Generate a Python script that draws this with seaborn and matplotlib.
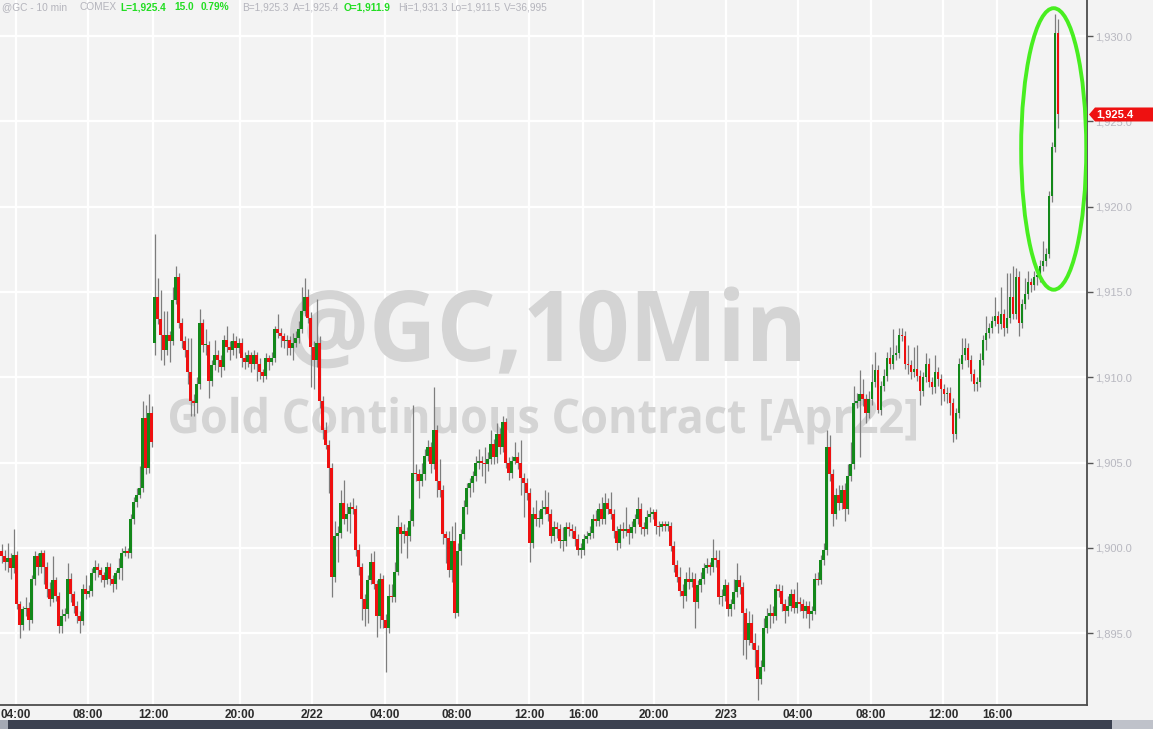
import numpy as np
import pandas as pd
import matplotlib
matplotlib.use("Agg")
import matplotlib.pyplot as plt
from matplotlib.patches import Ellipse, Rectangle, Polygon, PathPatch
from matplotlib.textpath import TextPath
from matplotlib.font_manager import FontProperties
from matplotlib.transforms import Affine2D
import seaborn as sns

# 10-minute candles, @GC (Gold Apr22), 2/21 03:10 -> 2/23 ~19:20
opens = [
    1899.8, 1899.5, 1899.2, 1899.4, 1898.8, 1899.6, 1896.7, 1895.5, 1896.4, 1896.5,
    1895.8, 1898.2, 1899.5, 1898.9, 1899.7, 1898.9, 1897.6, 1897.0, 1898.1, 1897.2,
    1895.4, 1896.0, 1896.1, 1898.2, 1897.3, 1896.6, 1896.0, 1895.7, 1897.6, 1897.3,
    1897.5, 1898.5, 1898.9, 1898.7, 1898.4, 1898.1, 1898.9, 1898.2, 1897.9, 1898.5,
    1898.8, 1899.7, 1899.8, 1899.7, 1901.7, 1902.7, 1903.1, 1903.5, 1907.6, 1904.7,
    1907.9, 1912.0, 1914.7, 1913.4, 1912.5, 1911.6, 1912.5, 1912.1, 1914.5, 1915.9,
    1913.2, 1912.1, 1911.6, 1910.3, 1908.6, 1908.5, 1909.6, 1913.2, 1911.9, 1911.9,
    1909.8, 1910.7, 1911.3, 1911.0, 1910.6, 1912.2, 1911.8, 1911.6, 1912.1, 1911.7,
    1912.0, 1911.1, 1910.9, 1911.3, 1910.8, 1911.3, 1910.8, 1910.3, 1910.1, 1911.1,
    1910.9, 1911.1, 1912.8, 1912.6, 1912.4, 1912.1, 1912.2, 1911.7, 1912.0, 1912.3,
    1912.8, 1913.9, 1914.7, 1913.5, 1911.8, 1911.0, 1912.0, 1908.6, 1906.9, 1906.0,
    1904.7, 1898.3, 1900.7, 1900.9, 1902.6, 1901.7, 1902.0, 1902.4, 1902.3, 1899.9,
    1898.9, 1897.0, 1896.4, 1898.1, 1899.2, 1897.9, 1896.0, 1898.2, 1895.8, 1895.3,
    1897.2, 1897.1, 1898.6, 1901.2, 1900.8, 1901.0, 1900.7, 1901.6, 1904.4, 1904.3,
    1903.9, 1904.3, 1905.4, 1905.9, 1904.9, 1906.9, 1903.9, 1903.4, 1900.8, 1900.6,
    1898.7, 1900.4, 1896.2, 1899.8, 1900.8, 1902.4, 1903.5, 1903.8, 1904.2, 1905.0,
    1905.1, 1905.0, 1904.9, 1905.2, 1906.1, 1905.3, 1906.7, 1905.9, 1907.4, 1905.0,
    1904.4, 1905.1, 1905.3, 1905.0, 1904.1, 1903.8, 1903.2, 1900.3, 1902.0, 1901.7,
    1901.7, 1902.3, 1902.4, 1902.0, 1900.7, 1901.2, 1901.1, 1900.4, 1900.4, 1901.2,
    1901.1, 1901.0, 1900.5, 1899.9, 1899.9, 1900.5, 1900.7, 1900.9, 1901.7, 1901.6,
    1902.3, 1901.7, 1902.6, 1902.3, 1902.0, 1901.0, 1900.3, 1901.1, 1901.0, 1901.1,
    1900.9, 1901.2, 1901.7, 1902.3, 1901.2, 1901.1, 1901.8, 1902.0, 1902.1, 1901.3,
    1901.2, 1901.4, 1901.3, 1901.3, 1900.1, 1899.0, 1898.3, 1897.5, 1897.2, 1898.2,
    1898.0, 1898.2, 1896.8, 1897.8, 1898.2, 1898.8, 1899.0, 1898.9, 1899.4, 1899.3,
    1897.1, 1897.2, 1897.8, 1896.4, 1896.7, 1897.4, 1898.1, 1897.7, 1896.2, 1894.6,
    1895.6, 1894.4, 1894.0, 1892.3, 1893.0, 1895.3, 1896.0, 1896.2, 1896.0, 1897.6,
    1897.5, 1896.7, 1896.3, 1896.6, 1897.3, 1896.5, 1896.8, 1896.7, 1896.3, 1896.6,
    1896.1, 1896.3, 1898.2, 1898.1, 1899.3, 1899.9, 1905.9, 1904.3, 1902.0, 1903.1,
    1902.6, 1903.4, 1902.3, 1904.2, 1904.9, 1908.5, 1908.6, 1909.0, 1908.7, 1907.9,
    1908.7, 1909.7, 1910.4, 1908.1, 1909.5, 1910.1, 1911.1, 1910.8, 1911.3, 1911.4,
    1912.5, 1912.4, 1910.8, 1910.7, 1910.3, 1910.5, 1910.1, 1909.2, 1910.0, 1910.8,
    1909.7, 1909.4, 1910.3, 1909.9, 1909.3, 1909.0, 1909.1, 1908.5, 1906.7, 1907.9,
    1910.8, 1911.3, 1911.7, 1911.0, 1910.2, 1909.6, 1909.7, 1911.0, 1912.2, 1912.6,
    1912.9, 1913.3, 1913.6, 1913.1, 1913.7, 1912.9, 1913.5, 1914.7, 1913.7, 1915.9,
    1913.2, 1914.3, 1914.9, 1915.6, 1915.4, 1915.9, 1915.9, 1916.5, 1916.8, 1917.2,
    1920.6, 1923.5, 1930.2,
]
closes = [
    1899.5, 1899.2, 1899.4, 1898.8, 1899.6, 1896.7, 1895.5, 1896.4, 1896.5, 1895.8,
    1898.2, 1899.5, 1898.9, 1899.7, 1898.9, 1897.6, 1897.0, 1898.1, 1897.2, 1895.4,
    1896.0, 1896.1, 1898.2, 1897.3, 1896.6, 1896.0, 1895.7, 1897.6, 1897.3, 1897.5,
    1898.5, 1898.9, 1898.7, 1898.4, 1898.1, 1898.9, 1898.2, 1897.9, 1898.5, 1898.8,
    1899.7, 1899.8, 1899.7, 1901.7, 1902.7, 1903.1, 1903.5, 1907.6, 1904.7, 1907.9,
    1906.2, 1914.7, 1913.4, 1912.5, 1911.6, 1912.5, 1912.1, 1914.5, 1915.9, 1913.2,
    1912.1, 1911.6, 1910.3, 1908.6, 1908.5, 1909.6, 1913.2, 1911.9, 1911.9, 1909.8,
    1910.7, 1911.3, 1911.0, 1910.6, 1912.2, 1911.8, 1911.6, 1912.1, 1911.7, 1912.0,
    1911.1, 1910.9, 1911.3, 1910.8, 1911.3, 1910.8, 1910.3, 1910.1, 1911.1, 1910.9,
    1911.1, 1912.8, 1912.6, 1912.4, 1912.1, 1912.2, 1911.7, 1912.0, 1912.3, 1912.8,
    1913.9, 1914.7, 1913.5, 1911.8, 1911.0, 1912.0, 1908.6, 1906.9, 1906.0, 1904.7,
    1898.3, 1900.7, 1900.9, 1902.6, 1901.7, 1902.0, 1902.4, 1902.3, 1899.9, 1898.9,
    1897.0, 1896.4, 1898.1, 1899.2, 1897.9, 1896.0, 1898.2, 1895.8, 1895.3, 1897.2,
    1897.1, 1898.6, 1901.2, 1900.8, 1901.0, 1900.7, 1901.6, 1904.4, 1904.3, 1903.9,
    1904.3, 1905.4, 1905.9, 1904.9, 1906.9, 1903.9, 1903.4, 1900.8, 1900.6, 1898.7,
    1900.4, 1896.2, 1899.8, 1900.8, 1902.4, 1903.5, 1903.8, 1904.2, 1905.0, 1905.1,
    1905.0, 1904.9, 1905.2, 1906.1, 1905.3, 1906.7, 1905.9, 1907.4, 1905.0, 1904.4,
    1905.1, 1905.3, 1905.0, 1904.1, 1903.8, 1903.2, 1900.3, 1902.0, 1901.7, 1901.7,
    1902.3, 1902.4, 1902.0, 1900.7, 1901.2, 1901.1, 1900.4, 1900.4, 1901.2, 1901.1,
    1901.0, 1900.5, 1899.9, 1899.9, 1900.5, 1900.7, 1900.9, 1901.7, 1901.6, 1902.3,
    1901.7, 1902.6, 1902.3, 1902.0, 1901.0, 1900.3, 1901.1, 1901.0, 1901.1, 1900.9,
    1901.2, 1901.7, 1902.3, 1901.2, 1901.1, 1901.8, 1902.0, 1902.1, 1901.3, 1901.2,
    1901.4, 1901.3, 1901.3, 1900.1, 1899.0, 1898.3, 1897.5, 1897.2, 1898.2, 1898.0,
    1898.2, 1896.8, 1897.8, 1898.2, 1898.8, 1899.0, 1898.9, 1899.4, 1899.3, 1897.1,
    1897.2, 1897.8, 1896.4, 1896.7, 1897.4, 1898.1, 1897.7, 1896.2, 1894.6, 1895.6,
    1894.4, 1894.0, 1892.3, 1893.0, 1895.3, 1896.0, 1896.2, 1896.0, 1897.6, 1897.5,
    1896.7, 1896.3, 1896.6, 1897.3, 1896.5, 1896.8, 1896.7, 1896.3, 1896.6, 1896.1,
    1896.3, 1898.2, 1898.1, 1899.3, 1899.9, 1905.9, 1904.3, 1902.0, 1903.1, 1902.6,
    1903.4, 1902.3, 1904.2, 1904.9, 1908.5, 1908.6, 1909.0, 1908.7, 1907.9, 1908.7,
    1909.7, 1910.4, 1908.1, 1909.5, 1910.1, 1911.1, 1910.8, 1911.3, 1911.4, 1912.5,
    1912.4, 1910.8, 1910.7, 1910.3, 1910.5, 1910.1, 1909.2, 1910.0, 1910.8, 1909.7,
    1909.4, 1910.3, 1909.9, 1909.3, 1909.0, 1909.1, 1908.5, 1906.7, 1907.9, 1910.8,
    1911.3, 1911.7, 1911.0, 1910.2, 1909.6, 1909.7, 1911.0, 1912.2, 1912.6, 1912.9,
    1913.3, 1913.6, 1913.1, 1913.7, 1912.9, 1913.5, 1914.7, 1913.7, 1915.9, 1913.2,
    1914.3, 1914.9, 1915.6, 1915.4, 1915.9, 1915.9, 1916.5, 1916.8, 1917.2, 1920.6,
    1923.5, 1930.2, 1925.4,
]
highs = [
    1900.2, 1899.9, 1900.3, 1899.7, 1901.1, 1899.8, 1896.9, 1896.6, 1897.1, 1896.8,
    1898.4, 1899.8, 1899.7, 1899.9, 1899.9, 1899.2, 1898.0, 1899.5, 1898.3, 1897.4,
    1896.4, 1896.5, 1899.1, 1898.5, 1897.5, 1896.9, 1896.3, 1897.9, 1898.4, 1897.8,
    1898.8, 1899.3, 1899.1, 1898.9, 1898.6, 1899.2, 1899.1, 1898.4, 1898.7, 1899.4,
    1900.0, 1900.1, 1900.0, 1902.0, 1903.0, 1903.5, 1904.8, 1908.6, 1908.4, 1909.0,
    1908.3, 1918.4, 1915.8, 1915.1, 1913.9, 1913.9, 1912.7, 1915.3, 1916.5, 1916.1,
    1913.5, 1912.4, 1912.3, 1912.3, 1909.0, 1910.0, 1914.0, 1913.4, 1912.8, 1912.1,
    1911.0, 1912.2, 1911.6, 1911.3, 1912.5, 1913.0, 1912.1, 1912.6, 1912.4, 1912.3,
    1912.3, 1911.5, 1911.6, 1911.5, 1911.6, 1911.5, 1911.1, 1910.5, 1911.4, 1911.3,
    1911.5, 1913.0, 1913.7, 1912.9, 1912.6, 1912.5, 1912.4, 1912.6, 1912.7, 1913.3,
    1915.3, 1915.8, 1915.2, 1913.8, 1912.1, 1914.6, 1912.4, 1908.9, 1907.4, 1906.3,
    1905.0, 1901.6, 1901.3, 1903.4, 1904.0, 1902.6, 1902.7, 1902.9, 1902.5, 1900.2,
    1899.1, 1897.3, 1898.4, 1899.7, 1899.8, 1898.1, 1898.5, 1898.4, 1896.1, 1897.9,
    1897.9, 1899.2, 1901.9, 1901.5, 1901.4, 1901.2, 1902.3, 1908.4, 1904.9, 1904.6,
    1905.0, 1905.8, 1906.3, 1906.2, 1909.4, 1907.2, 1905.2, 1903.7, 1901.0, 1901.0,
    1901.3, 1901.5, 1900.3, 1901.1, 1902.8, 1903.8, 1904.1, 1904.5, 1905.4, 1905.8,
    1905.4, 1905.9, 1905.6, 1906.9, 1906.4, 1907.3, 1907.0, 1907.7, 1907.6, 1905.3,
    1905.4, 1906.2, 1905.6, 1906.3, 1904.4, 1904.1, 1903.5, 1902.4, 1902.8, 1902.2,
    1902.8, 1903.4, 1903.3, 1902.3, 1901.6, 1901.5, 1901.4, 1901.2, 1901.5, 1901.5,
    1901.4, 1901.3, 1900.8, 1900.3, 1900.8, 1901.0, 1901.3, 1902.0, 1902.2, 1902.6,
    1903.0, 1903.2, 1902.9, 1903.3, 1902.3, 1901.3, 1901.4, 1901.5, 1902.4, 1901.4,
    1901.6, 1902.0, 1903.0, 1902.6, 1901.5, 1902.2, 1902.4, 1902.3, 1902.3, 1901.6,
    1901.6, 1901.6, 1901.6, 1901.5, 1900.4, 1899.3, 1898.9, 1897.9, 1898.6, 1898.9,
    1898.6, 1898.5, 1898.1, 1898.6, 1899.1, 1899.4, 1899.2, 1900.5, 1899.9, 1899.9,
    1897.6, 1898.2, 1898.0, 1897.0, 1898.2, 1899.1, 1898.4, 1898.0, 1896.5, 1896.3,
    1896.1, 1895.0, 1894.3, 1893.4, 1895.9, 1896.5, 1896.7, 1896.6, 1897.9, 1897.9,
    1897.8, 1897.0, 1897.2, 1897.6, 1897.6, 1898.0, 1897.1, 1897.0, 1896.9, 1896.9,
    1896.6, 1898.5, 1898.6, 1899.6, 1900.3, 1906.9, 1906.6, 1904.6, 1903.5, 1903.7,
    1903.7, 1903.8, 1904.9, 1906.2, 1909.5, 1909.1, 1910.4, 1909.9, 1909.0, 1909.2,
    1910.8, 1911.5, 1910.7, 1909.8, 1910.5, 1911.5, 1911.8, 1912.8, 1911.9, 1912.9,
    1912.9, 1912.7, 1911.9, 1911.0, 1911.8, 1911.9, 1910.4, 1910.3, 1911.4, 1911.1,
    1910.0, 1911.3, 1910.6, 1910.2, 1909.6, 1909.4, 1909.4, 1908.8, 1908.2, 1911.1,
    1912.3, 1912.3, 1912.0, 1911.3, 1910.5, 1910.0, 1911.4, 1912.5, 1913.6, 1913.2,
    1913.6, 1914.7, 1913.9, 1915.3, 1914.0, 1916.1, 1916.1, 1916.5, 1916.4, 1916.2,
    1914.6, 1915.8, 1916.2, 1915.8, 1916.2, 1916.3, 1916.9, 1918.0, 1917.6, 1920.9,
    1923.8, 1931.3, 1931.0,
]
lows = [
    1899.1, 1898.7, 1898.6, 1898.2, 1898.5, 1896.4, 1894.7, 1895.2, 1896.0, 1895.2,
    1895.6, 1897.8, 1898.4, 1898.5, 1897.9, 1897.1, 1896.6, 1896.8, 1896.9, 1895.0,
    1895.0, 1895.7, 1895.9, 1896.8, 1896.2, 1895.6, 1895.0, 1895.5, 1897.0, 1897.1,
    1897.2, 1898.1, 1898.3, 1898.0, 1897.7, 1897.9, 1897.8, 1897.4, 1897.6, 1898.2,
    1898.1, 1899.5, 1899.4, 1899.4, 1901.4, 1902.4, 1902.9, 1903.3, 1904.3, 1904.4,
    1905.9, 1911.3, 1913.1, 1911.0, 1910.7, 1911.3, 1910.9, 1911.9, 1914.3, 1912.9,
    1911.7, 1911.2, 1909.6, 1907.7, 1907.7, 1907.9, 1909.3, 1911.5, 1911.3, 1908.8,
    1909.5, 1910.4, 1910.3, 1910.0, 1910.4, 1911.5, 1911.0, 1911.3, 1911.1, 1911.4,
    1910.6, 1910.5, 1910.6, 1910.3, 1910.5, 1909.8, 1909.9, 1909.7, 1909.9, 1910.4,
    1910.7, 1910.9, 1912.3, 1911.8, 1911.7, 1911.3, 1911.3, 1911.0, 1911.8, 1912.0,
    1912.6, 1913.6, 1913.2, 1909.4, 1909.3, 1910.6, 1908.2, 1906.4, 1905.8, 1903.2,
    1897.1, 1898.0, 1899.2, 1900.6, 1901.4, 1901.0, 1900.9, 1902.0, 1899.5, 1898.4,
    1895.8, 1895.4, 1895.6, 1897.9, 1897.6, 1894.8, 1895.3, 1895.3, 1892.7, 1895.0,
    1896.8, 1896.8, 1898.4, 1899.7, 1900.3, 1899.4, 1900.4, 1901.3, 1903.9, 1902.9,
    1903.6, 1904.0, 1905.1, 1904.4, 1904.6, 1903.0, 1903.0, 1900.2, 1899.1, 1898.3,
    1898.0, 1895.9, 1896.0, 1899.0, 1900.5, 1902.0, 1903.0, 1903.3, 1903.9, 1904.6,
    1904.2, 1903.8, 1904.5, 1904.9, 1904.9, 1905.0, 1905.5, 1905.6, 1904.7, 1904.0,
    1904.1, 1904.9, 1904.6, 1903.1, 1901.8, 1902.8, 1899.2, 1900.0, 1901.3, 1901.2,
    1901.4, 1902.0, 1901.6, 1900.3, 1900.4, 1900.6, 1900.0, 1899.8, 1900.1, 1900.7,
    1900.6, 1900.1, 1899.6, 1899.4, 1899.6, 1900.3, 1900.5, 1900.6, 1901.3, 1901.3,
    1901.4, 1901.4, 1902.0, 1901.7, 1900.6, 1899.9, 1900.0, 1900.6, 1900.7, 1900.2,
    1900.6, 1900.9, 1901.4, 1900.8, 1900.7, 1900.8, 1901.5, 1901.7, 1900.8, 1900.7,
    1901.0, 1901.0, 1901.0, 1899.8, 1898.6, 1898.0, 1897.2, 1896.5, 1896.9, 1897.6,
    1897.7, 1895.3, 1896.5, 1897.4, 1897.9, 1898.5, 1898.4, 1898.6, 1898.9, 1896.7,
    1896.6, 1896.9, 1896.0, 1896.0, 1896.4, 1897.1, 1897.3, 1893.7, 1893.5, 1894.3,
    1894.1, 1893.0, 1891.1, 1892.0, 1892.8, 1895.0, 1895.3, 1895.6, 1895.8, 1897.1,
    1896.3, 1895.6, 1896.0, 1896.3, 1896.2, 1896.2, 1896.3, 1895.9, 1895.9, 1895.3,
    1895.8, 1896.1, 1897.8, 1897.9, 1899.0, 1899.6, 1903.9, 1901.3, 1901.7, 1902.2,
    1902.3, 1901.6, 1902.0, 1903.9, 1904.6, 1908.2, 1905.3, 1908.3, 1907.3, 1907.6,
    1908.4, 1909.4, 1907.9, 1907.8, 1909.2, 1909.8, 1910.5, 1910.5, 1911.0, 1911.1,
    1912.1, 1910.5, 1910.2, 1909.9, 1910.0, 1909.8, 1908.4, 1908.9, 1909.7, 1909.4,
    1909.0, 1909.1, 1909.5, 1908.4, 1908.6, 1908.5, 1907.8, 1906.2, 1906.4, 1907.6,
    1910.5, 1911.0, 1910.6, 1909.8, 1909.2, 1909.2, 1909.4, 1910.7, 1911.6, 1912.3,
    1912.6, 1913.0, 1912.6, 1912.8, 1912.4, 1912.6, 1913.2, 1913.4, 1913.4, 1912.4,
    1912.9, 1914.0, 1914.6, 1915.0, 1915.1, 1915.4, 1915.6, 1916.2, 1916.5, 1917.0,
    1920.3, 1923.2, 1924.6,
]

# axis labels (tick positions are candle index)
tick_labels = ["04:00", "08:00", "12:00", "20:00", "2/22", "04:00", "08:00", "12:00",
               "16:00", "20:00", "2/23", "04:00", "08:00", "12:00", "16:00"]
tick_pos = [4.8, 28.8, 50.5, 79.5, 103.5, 127.8, 151.8, 175.8,
            193.8, 217.5, 241.5, 265.5, 289.8, 313.8, 331.8]
price_ticks = [1895.0, 1900.0, 1905.0, 1910.0, 1915.0, 1920.0, 1925.0, 1930.0]
last_price = 1925.4

df = pd.DataFrame({"open": opens, "high": highs, "low": lows, "close": closes})
df["i"] = np.arange(len(df))
df["up"] = df["close"] >= df["open"]

sns.set_theme(style="darkgrid")
BG = "#f3f3f3"
plt.rcParams["font.family"] = ["Liberation Sans", "DejaVu Sans"]

W, H = 1153, 729
fig = plt.figure(figsize=(W / 100, H / 100), dpi=100, facecolor=BG)
ax = fig.add_axes([0, 24 / H, 1087 / W, 705 / H])
ax.set_facecolor(BG)
ax.set_axisbelow(True)


def watermark(txt, left, right, cap_top, baseline):
    # text drawn as a path, stretched to the box it fills in the picture
    fp = FontProperties(family="Open Sans", weight="bold")
    tp = TextPath((0, 0), txt, size=1, prop=fp)
    ext = tp.get_extents()
    cap = TextPath((0, 0), "H", size=1, prop=fp).get_extents().ymax
    sx = (right - left) / (ext.x1 - ext.x0)
    sy = (baseline - cap_top) / cap
    tr = Affine2D().scale(sx, sy).translate(left - ext.x0 * sx, H - baseline)
    tr = tr + Affine2D().scale(1 / W, 1 / H) + fig.transFigure
    ax.add_patch(PathPatch(tp, transform=tr, fc="#d4d4d4", ec="none", zorder=0.8, clip_on=False))


watermark("@GC,10Min", 290, 800, 291, 361)
watermark("Gold Continuous Contract [Apr22]", 170, 916, 399, 433)

# wicks
ax.vlines(df["i"], df["low"], df["high"], color="#7d7d7d", lw=0.9, zorder=2)
# bodies
body = (df["close"] - df["open"]).abs()
body = body.where(body > 0.07, 0.07)
bottom = df[["open", "close"]].min(axis=1)
colors = np.where(df["up"], "#13881a", "#ee1010")
ax.bar(df["i"], body, bottom=bottom, width=0.72, color=colors, linewidth=0, zorder=3)

# highlight ellipse
ax.add_patch(Ellipse((350.7, 1923.38), width=21.7, height=16.5, fill=False,
                     edgecolor="#48ee20", lw=2.8, zorder=5))

ax.set_xlim(-0.5, 361.8)
ax.set_ylim(1890.79, 1932.11)

ax.set_xticks(tick_pos)
ax.set_xticklabels(tick_labels)
ax.set_yticks(price_ticks)
ax.set_yticklabels([f"{v:,.1f}" for v in price_ticks])
ax.yaxis.tick_right()
ax.grid(True, color="white", lw=1.6)
ax.tick_params(axis="x", length=0, pad=3, labelsize=8.5, labelcolor="#2b2b2b")
for lab in ax.get_xticklabels():
    lab.set_fontweight("bold")
ax.tick_params(axis="y", length=4, width=1, color="#555555", pad=2, labelsize=8,
               labelcolor="#b8b8c0", right=True, left=False)
for s in ["top", "left"]:
    ax.spines[s].set_visible(False)
for s in ["bottom", "right"]:
    ax.spines[s].set_visible(True)
    ax.spines[s].set_color("#4c4c4c")
    ax.spines[s].set_linewidth(1.3)

# last price tag on the right axis
y_tag = ax.transData.transform((0, last_price))[1]
tag = [(1089, y_tag), (1095, y_tag + 7), (W, y_tag + 7), (W, y_tag - 7), (1095, y_tag - 7)]
fig.patches.append(Polygon([(x / W, y / H) for x, y in tag], closed=True,
                           transform=fig.transFigure, fc="#ee1111", ec="none", zorder=10))
fig.text(1096 / W, y_tag / H, "1,925.4", ha="left", va="center", fontsize=8,
         fontweight="bold", color="white", zorder=11)

# header line
hdr = [("@GC - 10 min", 2, "#b4b4bc", "normal"), ("COMEX", 80, "#b4b4bc", "normal"),
       ("L=1,925.4", 120, "#22dd22", "bold"), ("15.0", 174, "#22dd22", "bold"),
       ("0.79%", 201, "#22dd22", "bold"), ("B=1,925.3", 242, "#b4b4bc", "normal"),
       ("A=1,925.4", 293, "#b4b4bc", "normal"), ("O=1,911.9", 344, "#22dd22", "bold"),
       ("Hi=1,931.3", 398, "#b4b4bc", "normal"), ("Lo=1,911.5", 450, "#b4b4bc", "normal"),
       ("V=36,995", 504, "#b4b4bc", "normal")]
for txt, px, col, w in hdr:
    fig.text(px / W, 1 - 7 / H, txt, ha="left", va="center", fontsize=7.3,
             color=col, fontweight=w)

# scrollbar at the bottom
fig.patches.append(Rectangle((0, 0), 8 / W, 9 / H, transform=fig.transFigure,
                             fc="#a4a9b4", ec="none"))
fig.patches.append(Rectangle((8 / W, 0), 1104 / W, 9 / H, transform=fig.transFigure,
                             fc="#3b4150", ec="none"))
fig.patches.append(Rectangle((1112 / W, 0), 41 / W, 9 / H, transform=fig.transFigure,
                             fc="#bfc2ca", ec="none"))

fig.savefig("out.png", dpi=100, facecolor=BG)
